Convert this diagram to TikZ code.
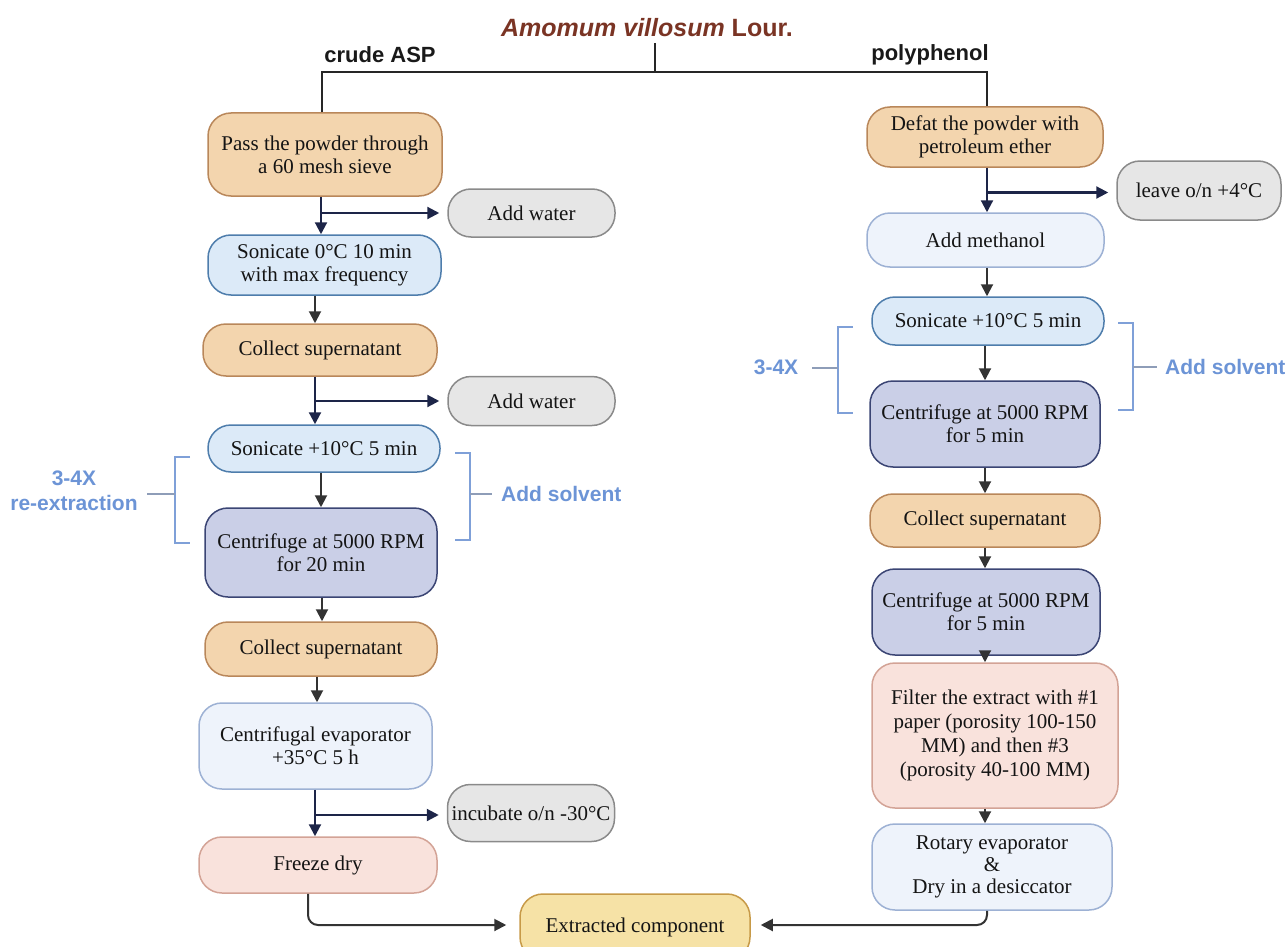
\documentclass[tikz,border=0pt]{standalone}
\usepackage{fontspec}
\setmainfont{Liberation Serif}
\newfontfamily\headfont{Liberation Sans}
\usetikzlibrary{arrows.meta,calc}

\definecolor{tanF}{HTML}{F3D5AE} \definecolor{tanD}{HTML}{B9875A}
\definecolor{skyF}{HTML}{DCEAF8} \definecolor{skyD}{HTML}{4E7DAC}
\definecolor{lavF}{HTML}{CACFE7} \definecolor{lavD}{HTML}{3B4574}
\definecolor{paleF}{HTML}{EEF3FB} \definecolor{paleD}{HTML}{9DB1D4}
\definecolor{greyF}{HTML}{E6E6E6} \definecolor{greyD}{HTML}{8A8A8A}
\definecolor{pinkF}{HTML}{F9E2DC} \definecolor{pinkD}{HTML}{D3A396}
\definecolor{yelF}{HTML}{F6E2A6} \definecolor{yelD}{HTML}{C79A48}
\definecolor{navy}{HTML}{1D2548}
\definecolor{arrowgrey}{HTML}{333333}
\definecolor{brak}{HTML}{7FA0D8}
\definecolor{brakline}{HTML}{8E9DB8}
\definecolor{bluetext}{HTML}{6C94D6}
\definecolor{titlebrown}{HTML}{7A3424}

\begin{document}
\begin{tikzpicture}[x=1pt,y=-1pt,
  box/.style={draw, line width=1.5pt, rounded corners=23pt, align=center, inner sep=0pt,
    font=\fontsize{21}{23}\selectfont, text=black!92},
  tanbox/.style={box, fill=tanF, draw=tanD},
  skybox/.style={box, fill=skyF, draw=skyD},
  lavbox/.style={box, fill=lavF, draw=lavD},
  palebox/.style={box, fill=paleF, draw=paleD},
  greybox/.style={box, fill=greyF, draw=greyD},
  pinkbox/.style={box, fill=pinkF, draw=pinkD},
  yelbox/.style={box, fill=yelF, draw=yelD},
  narr/.style={draw=navy, line width=2.2pt, -{Triangle[length=12pt,width=12pt]}},
  garr/.style={draw=arrowgrey, line width=2pt, -{Triangle[length=12pt,width=12pt]}},
  topline/.style={draw=black!85, line width=1.6pt},
  brk/.style={draw=brak, line width=2pt},
  brkl/.style={draw=brakline, line width=1.8pt},
  bluelbl/.style={text=bluetext, align=center, inner sep=0pt, font=\headfont\bfseries\fontsize{21}{25}\selectfont},
  headlbl/.style={text=black!90, inner sep=0pt, font=\headfont\bfseries\fontsize{22}{26}\selectfont}
]
\useasboundingbox (0,0) rectangle (1287,947);

% title and branch headings
\node[inner sep=0pt, text=titlebrown, font=\headfont\bfseries\fontsize{25}{28}\selectfont] (title) at (647,28) {\itshape Amomum villosum\upshape{} Lour.};
\node[headlbl] (crude) at (380,55) {crude ASP};
\node[headlbl] (poly) at (930,55) {polyphenol};

% left column
\node[tanbox, minimum width=234pt, minimum height=83pt] (L1) at (325,154.5) {Pass the powder through\\a 60 mesh sieve};
\node[greybox, minimum width=167pt, minimum height=48pt] (AW1) at (531.5,213) {Add water};
\node[skybox, minimum width=233pt, minimum height=60pt] (L2) at (324.5,265) {Sonicate 0°C 10 min\\with max frequency};
\node[tanbox, minimum width=234pt, minimum height=52pt] (L3) at (320,350) {Collect supernatant};
\node[greybox, minimum width=167pt, minimum height=49pt] (AW2) at (531.5,401) {Add water};
\node[skybox, minimum width=232pt, minimum height=47pt] (L4) at (324,448.5) {Sonicate +10°C 5 min};
\node[lavbox, minimum width=232pt, minimum height=89pt] (L5) at (321,552.5) {Centrifuge at 5000 RPM\\for 20 min};
\node[tanbox, minimum width=232pt, minimum height=54pt] (L6) at (321,649) {Collect supernatant};
\node[palebox, minimum width=233pt, minimum height=86pt] (L7) at (315.5,746) {Centrifugal evaporator\\+35°C 5 h};
\node[greybox, minimum width=167pt, minimum height=57pt] (INC) at (531,813) {incubate o/n -30°C};
\node[pinkbox, minimum width=238pt, minimum height=56pt] (L8) at (318,865) {Freeze dry};

% bottom
\node[yelbox, minimum width=230pt, minimum height=66pt] (X) at (635,927) {\raisebox{-2pt}{Extracted component}};

% right column
\node[tanbox, minimum width=236pt, minimum height=60pt] (R1) at (985,137) {Defat the powder with\\petroleum ether};
\node[greybox, minimum width=164pt, minimum height=59pt] (LV) at (1199,190.5) {leave o/n +4°C};
\node[palebox, minimum width=237pt, minimum height=54pt] (R2) at (985.5,240) {Add methanol};
\node[skybox, minimum width=232pt, minimum height=48pt] (R3) at (988,321) {Sonicate +10°C 5 min};
\node[lavbox, minimum width=230pt, minimum height=86pt] (R4) at (985,424) {Centrifuge at 5000 RPM\\for 5 min};
\node[tanbox, minimum width=230pt, minimum height=53pt] (R5) at (985,520.5) {Collect supernatant};
\node[lavbox, minimum width=228pt, minimum height=86pt] (R6) at (986,612) {Centrifuge at 5000 RPM\\for 5 min};
\node[pinkbox, minimum width=246pt, minimum height=145pt, font=\fontsize{21}{24}\selectfont] (R7) at (995,735.5) {Filter the extract with \#1\\paper (porosity 100-150\\MM) and then \#3\\(porosity 40-100 MM)};
\node[palebox, minimum width=240pt, minimum height=86pt, font=\fontsize{21}{22}\selectfont] (R8) at (992,867) {Rotary evaporator\\\&\\Dry in a desiccator};

% column coordinates
\coordinate (cA) at (321,0);
\coordinate (cB) at (315,0);
\coordinate (cC) at (322,0);
\coordinate (cD) at (317,0);
\coordinate (cE) at (308,0);
\coordinate (cR) at (987,0);
\coordinate (cS) at (985,0);
\coordinate (hz) at (655,72);
\coordinate (tt) at (655,43);

% top tree
\draw[topline] (tt) -- (hz);
\draw[topline] (L1.north -| cC) |- (hz) -| (R1.north -| cR);

% left arrows
\draw[narr] (L1.south -| cA) -- (L2.north -| cA);
\draw[narr] (AW1.west -| cA) -- ([xshift=-8pt]AW1.west);
\draw[garr] (L2.south -| cB) -- (L3.north -| cB);
\draw[narr] (L3.south -| cB) -- (L4.north -| cB);
\draw[narr] (AW2.west -| cB) -- ([xshift=-8pt]AW2.west);
\draw[garr] (L4.south -| cA) -- (L5.north -| cA);
\draw[garr] (L5.south -| cC) -- (L6.north -| cC);
\draw[garr] (L6.south -| cD) -- (L7.north -| cD);
\draw[narr] (L7.south -| cB) -- (L8.north -| cB);
\draw[narr] ([yshift=-2pt]INC.west -| cB) -- ([xshift=-8pt,yshift=-2pt]INC.west);
\draw[garr, rounded corners=10pt] (L8.south -| cE) |- ([xshift=-13pt,yshift=2pt]X.west);

% right arrows
\draw[narr] (R1.south -| cR) -- (R2.north -| cR);
\draw[narr] ([yshift=-2pt]LV.west -| cR) -- ([xshift=-8pt,yshift=-2pt]LV.west);
\draw[garr] (R2.south -| cR) -- (R3.north -| cR);
\draw[garr] (R3.south -| cS) -- (R4.north -| cS);
\draw[garr] (R4.south -| cS) -- (R5.north -| cS);
\draw[garr] (R5.south -| cS) -- (R6.north -| cS);
\draw[garr] (R6.south -| cS) -- (R7.north -| cS);
\draw[garr] (R7.south -| cS) -- (R8.north -| cS);
\draw[garr, rounded corners=10pt] (R8.south -| cR) |- ([xshift=10pt,yshift=2pt]X.east);

% brackets left
\draw[brk] (190,457) -- (175,457) -- (175,543) -- (190,543);
\draw[brkl] (147,494) -- (175,494);
\node[bluelbl] (rep1) at (74,491) {3-4X\\re-extraction};
\draw[brk] (455,453) -- (470,453) -- (470,540) -- (455,540);
\draw[brkl] (470,494) -- (492,494);
\node[bluelbl, anchor=west] (sol1) at (501,494) {Add solvent};

% brackets right
\draw[brk] (853,327) -- (838,327) -- (838,413) -- (853,413);
\draw[brkl] (812,368) -- (838,368);
\node[bluelbl] (rep2) at (776,367) {3-4X};
\draw[brk] (1118,323) -- (1133,323) -- (1133,410) -- (1118,410);
\draw[brkl] (1133,367) -- (1157,367);
\node[bluelbl, anchor=west] (sol2) at (1165,367) {Add solvent};
\end{tikzpicture}
\end{document}
